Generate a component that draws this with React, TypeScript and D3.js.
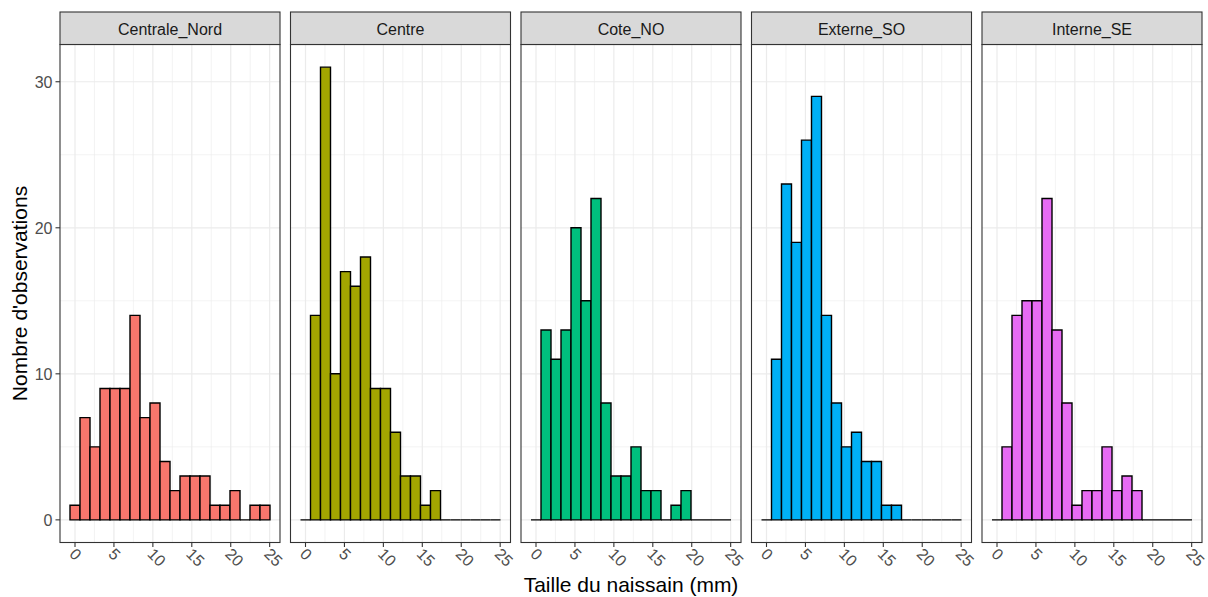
import { useEffect, useRef } from "react";
import * as d3 from "d3";

// facets and counts per bin (20 bins, shared x scale)
const sites = ["Centrale_Nord", "Centre", "Cote_NO", "Externe_SO", "Interne_SE"];
const colors = ["#F8766D", "#A3A500", "#00BF7D", "#00B0F6", "#E76BF3"];

const centraleNord = [1, 7, 5, 9, 9, 9, 14, 7, 8, 4, 2, 3, 3, 3, 1, 1, 2, 0, 1, 1];
const centre = [0, 14, 31, 10, 17, 16, 18, 9, 9, 6, 3, 3, 1, 2, 0, 0, 0, 0, 0, 0];
const coteNO = [0, 13, 11, 13, 20, 15, 22, 8, 3, 3, 5, 2, 2, 0, 1, 2, 0, 0, 0, 0];
const externeSO = [0, 11, 23, 19, 26, 29, 14, 8, 5, 6, 4, 4, 1, 1, 0, 0, 0, 0, 0, 0];
const interneSE = [0, 5, 14, 15, 15, 22, 13, 8, 1, 2, 2, 5, 2, 3, 2, 0, 0, 0, 0, 0];

const counts = [centraleNord, centre, coteNO, externeSO, interneSE];

// data range 0 .. 24.4 mm, bins centred on the min
const xMin = 0;
const xMax = 24.4;
const xTicks = [0, 5, 10, 15, 20, 25];
const yTicks = [0, 10, 20, 30];

const W = 1208;
const H = 597;

const App = () => {
  const svgRef = useRef<SVGSVGElement>(null);

  useEffect(() => {
    if (!svgRef.current) return;
    const svg = d3.select(svgRef.current);
    svg.selectAll("*").remove();

    const font = "'Liberation Sans', Arial, sans-serif";
    const nb = centraleNord.length;
    const bw = (xMax - xMin) / (nb - 1);
    const b0 = xMin - bw / 2;
    const b1 = b0 + nb * bw;
    const xPad = (b1 - b0) * 0.05;
    const yMaxCount = d3.max(counts.flat()) || 31;
    const yPad = yMaxCount * 0.05;

    const panelLeft = 60;
    const panelRight = 1202;
    const gap = 10.5;
    const panelW = (panelRight - panelLeft - gap * (sites.length - 1)) / sites.length;
    const stripTop = 12;
    const panelTop = 44.5;
    const panelBottom = 542.5;

    const x = d3.scaleLinear().domain([b0 - xPad, b1 + xPad]).range([0, panelW]);
    const y = d3
      .scaleLinear()
      .domain([-yPad, yMaxCount + yPad])
      .range([panelBottom, panelTop]);

    const minorX = d3.range(2.5, 25, 5);
    const minorY = [5, 15, 25];

    sites.forEach((site, i) => {
      const px = panelLeft + i * (panelW + gap);
      const g = svg.append("g").attr("transform", `translate(${px},0)`);

      // panel background
      g.append("rect")
        .attr("x", 0)
        .attr("y", panelTop)
        .attr("width", panelW)
        .attr("height", panelBottom - panelTop)
        .attr("fill", "#ffffff");

      // grid
      g.selectAll(".minx")
        .data(minorX)
        .enter()
        .append("line")
        .attr("x1", (d) => x(d))
        .attr("x2", (d) => x(d))
        .attr("y1", panelTop)
        .attr("y2", panelBottom)
        .attr("stroke", "#EBEBEB")
        .attr("stroke-width", 0.6);
      g.selectAll(".miny")
        .data(minorY)
        .enter()
        .append("line")
        .attr("x1", 0)
        .attr("x2", panelW)
        .attr("y1", (d) => y(d))
        .attr("y2", (d) => y(d))
        .attr("stroke", "#EBEBEB")
        .attr("stroke-width", 0.6);
      g.selectAll(".majx")
        .data(xTicks)
        .enter()
        .append("line")
        .attr("x1", (d) => x(d))
        .attr("x2", (d) => x(d))
        .attr("y1", panelTop)
        .attr("y2", panelBottom)
        .attr("stroke", "#EBEBEB")
        .attr("stroke-width", 1.2);
      g.selectAll(".majy")
        .data(yTicks)
        .enter()
        .append("line")
        .attr("x1", 0)
        .attr("x2", panelW)
        .attr("y1", (d) => y(d))
        .attr("y2", (d) => y(d))
        .attr("stroke", "#EBEBEB")
        .attr("stroke-width", 1.2);

      // histogram bars (zero-height bins still show their outline)
      g.selectAll(".bar")
        .data(counts[i])
        .enter()
        .append("path")
        .attr("d", (d, k) => {
          const l = x(b0 + k * bw);
          const r = x(b0 + (k + 1) * bw);
          return `M${l},${y(0)}H${r}V${y(d)}H${l}Z`;
        })
        .attr("fill", colors[i])
        .attr("stroke", "#000000")
        .attr("stroke-width", 1.4)
        .attr("stroke-linejoin", "miter");

      // panel border
      g.append("rect")
        .attr("x", 0)
        .attr("y", panelTop)
        .attr("width", panelW)
        .attr("height", panelBottom - panelTop)
        .attr("fill", "none")
        .attr("stroke", "#333333")
        .attr("stroke-width", 1.1);

      // strip
      g.append("rect")
        .attr("x", 0)
        .attr("y", stripTop)
        .attr("width", panelW)
        .attr("height", panelTop - stripTop)
        .attr("fill", "#D9D9D9")
        .attr("stroke", "#333333")
        .attr("stroke-width", 1.1);
      g.append("text")
        .attr("x", panelW / 2)
        .attr("y", 34.5)
        .attr("text-anchor", "middle")
        .attr("font-family", font)
        .attr("font-size", 16)
        .attr("fill", "#1A1A1A")
        .text(site);

      // x axis ticks
      const xt = g.selectAll(".xt").data(xTicks).enter().append("g");
      xt.append("line")
        .attr("x1", (d) => x(d))
        .attr("x2", (d) => x(d))
        .attr("y1", panelBottom)
        .attr("y2", panelBottom + 4.5)
        .attr("stroke", "#333333")
        .attr("stroke-width", 1.1);
      xt.append("text")
        .attr("transform", (d) => `translate(${x(d) + 2},${panelBottom + 4}) rotate(45)`)
        .attr("dy", "0.75em")
        .attr("text-anchor", "start")
        .attr("font-family", font)
        .attr("font-size", 16)
        .attr("fill", "#4D4D4D")
        .text((d) => String(d));
    });

    // y axis on first panel
    const ya = svg.append("g");
    ya.selectAll("line")
      .data(yTicks)
      .enter()
      .append("line")
      .attr("x1", panelLeft - 4.5)
      .attr("x2", panelLeft)
      .attr("y1", (d) => y(d))
      .attr("y2", (d) => y(d))
      .attr("stroke", "#333333")
      .attr("stroke-width", 1.1);
    ya.selectAll("text")
      .data(yTicks)
      .enter()
      .append("text")
      .attr("x", panelLeft - 7.5)
      .attr("y", (d) => y(d))
      .attr("dy", "0.36em")
      .attr("text-anchor", "end")
      .attr("font-family", font)
      .attr("font-size", 16)
      .attr("fill", "#4D4D4D")
      .text((d) => String(d));

    // axis titles
    svg
      .append("text")
      .attr("x", (panelLeft + panelRight) / 2)
      .attr("y", 592)
      .attr("text-anchor", "middle")
      .attr("font-family", font)
      .attr("font-size", 21)
      .attr("fill", "#000000")
      .text("Taille du naissain (mm)");

    svg
      .append("text")
      .attr("transform", `translate(27,${(panelTop + panelBottom) / 2}) rotate(-90)`)
      .attr("text-anchor", "middle")
      .attr("font-family", font)
      .attr("font-size", 21)
      .attr("fill", "#000000")
      .text("Nombre d'observations");
  }, []);

  return (
    <svg
      ref={svgRef}
      width={W}
      height={H}
      style={{ position: "absolute", left: 0, top: 0, background: "#ffffff" }}
    />
  );
};

export default App;
